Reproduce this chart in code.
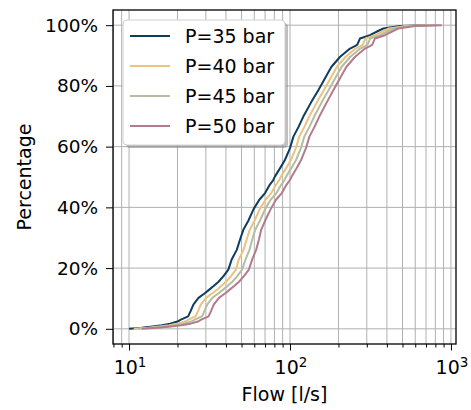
<!DOCTYPE html>
<html>
<head>
<meta charset="utf-8">
<script src="https://cdn.jsdelivr.net/npm/d3@7"></script>
<style>
  body { margin: 0; background: #fff; }
  svg { font-family: "DejaVu Sans", sans-serif; }
</style>
</head>
<body>
<div id="chart"></div>
<script>
// cumulative share (%)
const pct = [0, 0.35, 0.8, 1.2, 1.7, 2.4, 3.0, 4.1, 6, 8, 10.2, 11.8, 12.9, 14, 15.5, 17.3, 19.5, 22.8, 26, 29.5,
  32.6, 35.5, 39.5, 42.5, 44.7, 47.5, 49, 50.2, 53, 55.6, 59.5, 63.3, 66.5, 69.9, 74.5, 78.6, 82.5, 86.3, 89.6, 92.3,
  93.2, 93.6, 95.6, 96.7, 98, 98.9, 99.7, 99.9, 100];

// flow [l/s] at each pct level
const flow35 = [10, 12, 14, 16, 18, 20, 21, 23.3, 24.2, 25.1, 27, 29.7, 31.5, 33.4, 36, 38.5, 41.4, 43.4, 46.7, 49,
  51.3, 55, 59.5, 64.5, 70, 75, 78.7, 80.7, 87, 93, 100, 105, 113, 121, 135, 150, 165, 181, 205, 236,
  255, 262, 272, 314, 350, 380, 482, 600, 707];
const flow40 = [10.7, 13.1, 15.4, 17.8, 20, 22.3, 23.4, 25.9, 26.9, 27.9, 30.1, 33.1, 35.3, 37.2, 40.1, 42.9, 46.1, 48, 51.4, 53.9,
  56.2, 60.1, 65, 70.5, 76.5, 82, 85.8, 88, 94.8, 101.4, 108.8, 114.2, 122.9, 131.6, 146.5, 162.3, 178.5, 195.8, 221.8, 255.4,
  275.9, 283.5, 294.3, 339.7, 378.7, 411.2, 521.5, 649.2, 765];
const flow45 = [11.3, 14, 16.7, 19.2, 21.9, 24.4, 25.6, 28.4, 29.5, 30.6, 32.9, 36.2, 38.4, 40.7, 43.8, 46.9, 50.4, 52.9, 56, 58.3,
  60.8, 64.9, 70.2, 75.8, 82.4, 88.3, 92.5, 94.8, 102.1, 109, 116.9, 122.7, 132.1, 141.4, 157, 173.6, 190.9, 209.4, 237.2, 273.1,
  295, 303.1, 314.7, 363.3, 405, 439.7, 557.7, 694.2, 818];
const flow50 = [12, 15.1, 18.2, 21.1, 24.1, 26.8, 28.1, 31.2, 32.4, 33.6, 36.2, 39.8, 42.2, 44.8, 48.2, 51.6, 55.5, 58.2, 61.6, 64.2,
  66.2, 69.9, 76, 81.8, 88.9, 95.3, 99.9, 102.5, 110.1, 117.2, 125.7, 132, 142, 152.1, 168.8, 185.9, 204.4, 224.3, 254, 292.4,
  315.9, 324.6, 337, 389, 433.7, 470.8, 597.2, 743.4, 876];

const labels = ["P=35 bar", "P=40 bar", "P=45 bar", "P=50 bar"];
const colors = ["#0f3d5e", "#ebc37f", "#b5bea0", "#b27c8d"];
const yTicks = [0, 20, 40, 60, 80, 100];

const series = [flow35, flow40, flow45, flow50].map((f, i) => ({
  name: labels[i],
  color: colors[i],
  values: f.map((v, j) => ({ flow: v, pct: pct[j] })),
}));

const width = 471;
const height = 410;
const margin = { top: 10, right: 15, bottom: 66, left: 113 };

const svg = d3
  .select("#chart")
  .append("svg")
  .attr("width", width)
  .attr("height", height);

const x = d3
  .scaleLog()
  .domain([7.95, 1075])
  .range([margin.left, width - margin.right]);

const y = d3
  .scaleLinear()
  .domain([-5, 105])
  .range([height - margin.bottom, margin.top]);

// grid lines, major and minor on x
const xGrid = [];
for (let d = 1; d <= 1000; d *= 10) {
  for (let k = 1; k <= 9; k++) {
    const v = d * k;
    if (v >= x.domain()[0] && v <= x.domain()[1]) xGrid.push(v);
  }
}
const xMajor = [10, 100, 1000];

const grid = svg.append("g").attr("stroke", "#b0b0b0").attr("stroke-width", 1);
grid
  .selectAll(".gx")
  .data(xGrid)
  .enter()
  .append("line")
  .attr("x1", (d) => x(d))
  .attr("x2", (d) => x(d))
  .attr("y1", margin.top)
  .attr("y2", height - margin.bottom);
grid
  .selectAll(".gy")
  .data(yTicks)
  .enter()
  .append("line")
  .attr("x1", margin.left)
  .attr("x2", width - margin.right)
  .attr("y1", (d) => y(d))
  .attr("y2", (d) => y(d));

// curves
const line = d3
  .line()
  .x((d) => x(d.flow))
  .y((d) => y(d.pct));

svg
  .append("g")
  .selectAll("path")
  .data(series)
  .enter()
  .append("path")
  .attr("fill", "none")
  .attr("stroke", (d) => d.color)
  .attr("stroke-width", 2)
  .attr("stroke-linejoin", "round")
  .attr("d", (d) => line(d.values));

// axes
const xAxis = d3
  .axisBottom(x)
  .tickValues(xGrid)
  .tickSize(3.5)
  .tickFormat("");
const gx = svg
  .append("g")
  .attr("transform", `translate(0, ${height - margin.bottom})`)
  .call(xAxis);
gx.select(".domain").remove();
gx.selectAll(".tick line")
  .attr("stroke", "#000")
  .attr("stroke-width", 1)
  .attr("y2", (d) => (xMajor.includes(d) ? 6.5 : 3.5));

const exps = { 10: "1", 100: "2", 1000: "3" };
xMajor.forEach((v) => {
  const t = svg
    .append("text")
    .attr("x", x(v) + 1)
    .attr("y", 374)
    .attr("text-anchor", "middle")
    .attr("font-size", 19)
    .attr("fill", "#000");
  t.append("tspan").text("10");
  t.append("tspan")
    .attr("font-size", 13.5)
    .attr("dy", -7.5)
    .text(exps[v]);
});

const yAxis = d3
  .axisLeft(y)
  .tickValues(yTicks)
  .tickSize(7)
  .tickPadding(8)
  .tickFormat((d) => d + "%");
const gy = svg
  .append("g")
  .attr("transform", `translate(${margin.left}, 0)`)
  .call(yAxis);
gy.select(".domain").remove();
gy.selectAll(".tick line").attr("stroke", "#000").attr("stroke-width", 1);
gy.selectAll(".tick text")
  .attr("font-size", 18.5)
  .attr("font-family", "DejaVu Sans")
  .attr("fill", "#000");

// frame
svg
  .append("rect")
  .attr("x", margin.left)
  .attr("y", margin.top)
  .attr("width", width - margin.right - margin.left)
  .attr("height", height - margin.bottom - margin.top)
  .attr("fill", "none")
  .attr("stroke", "#000")
  .attr("stroke-width", 1.3);

// axis titles
svg
  .append("text")
  .attr("x", (margin.left + width - margin.right) / 2)
  .attr("y", 401)
  .attr("text-anchor", "middle")
  .attr("font-size", 19)
  .text("Flow [l/s]");

svg
  .append("text")
  .attr("transform", `translate(31, ${(margin.top + height - margin.bottom) / 2}) rotate(-90)`)
  .attr("text-anchor", "middle")
  .attr("font-size", 19)
  .text("Percentage");

// legend
const lg = svg.append("g").attr("transform", "translate(123, 20)");
lg.append("rect")
  .attr("x", 3)
  .attr("y", 3)
  .attr("width", 162)
  .attr("height", 125)
  .attr("rx", 4)
  .attr("fill", "#7f7f7f")
  .attr("opacity", 0.5);
lg.append("rect")
  .attr("width", 162)
  .attr("height", 125)
  .attr("rx", 4)
  .attr("fill", "#fff")
  .attr("stroke", "#d0d0d0")
  .attr("stroke-width", 1);

const items = lg
  .selectAll(".item")
  .data(series)
  .enter()
  .append("g")
  .attr("transform", (d, i) => `translate(0, ${16 + i * 30})`);
items
  .append("line")
  .attr("x1", 7)
  .attr("x2", 47)
  .attr("stroke", (d) => d.color)
  .attr("stroke-width", 2);
items
  .append("text")
  .attr("x", 62)
  .attr("dy", "0.36em")
  .attr("font-size", 19)
  .text((d) => d.name);
</script>
</body>
</html>
